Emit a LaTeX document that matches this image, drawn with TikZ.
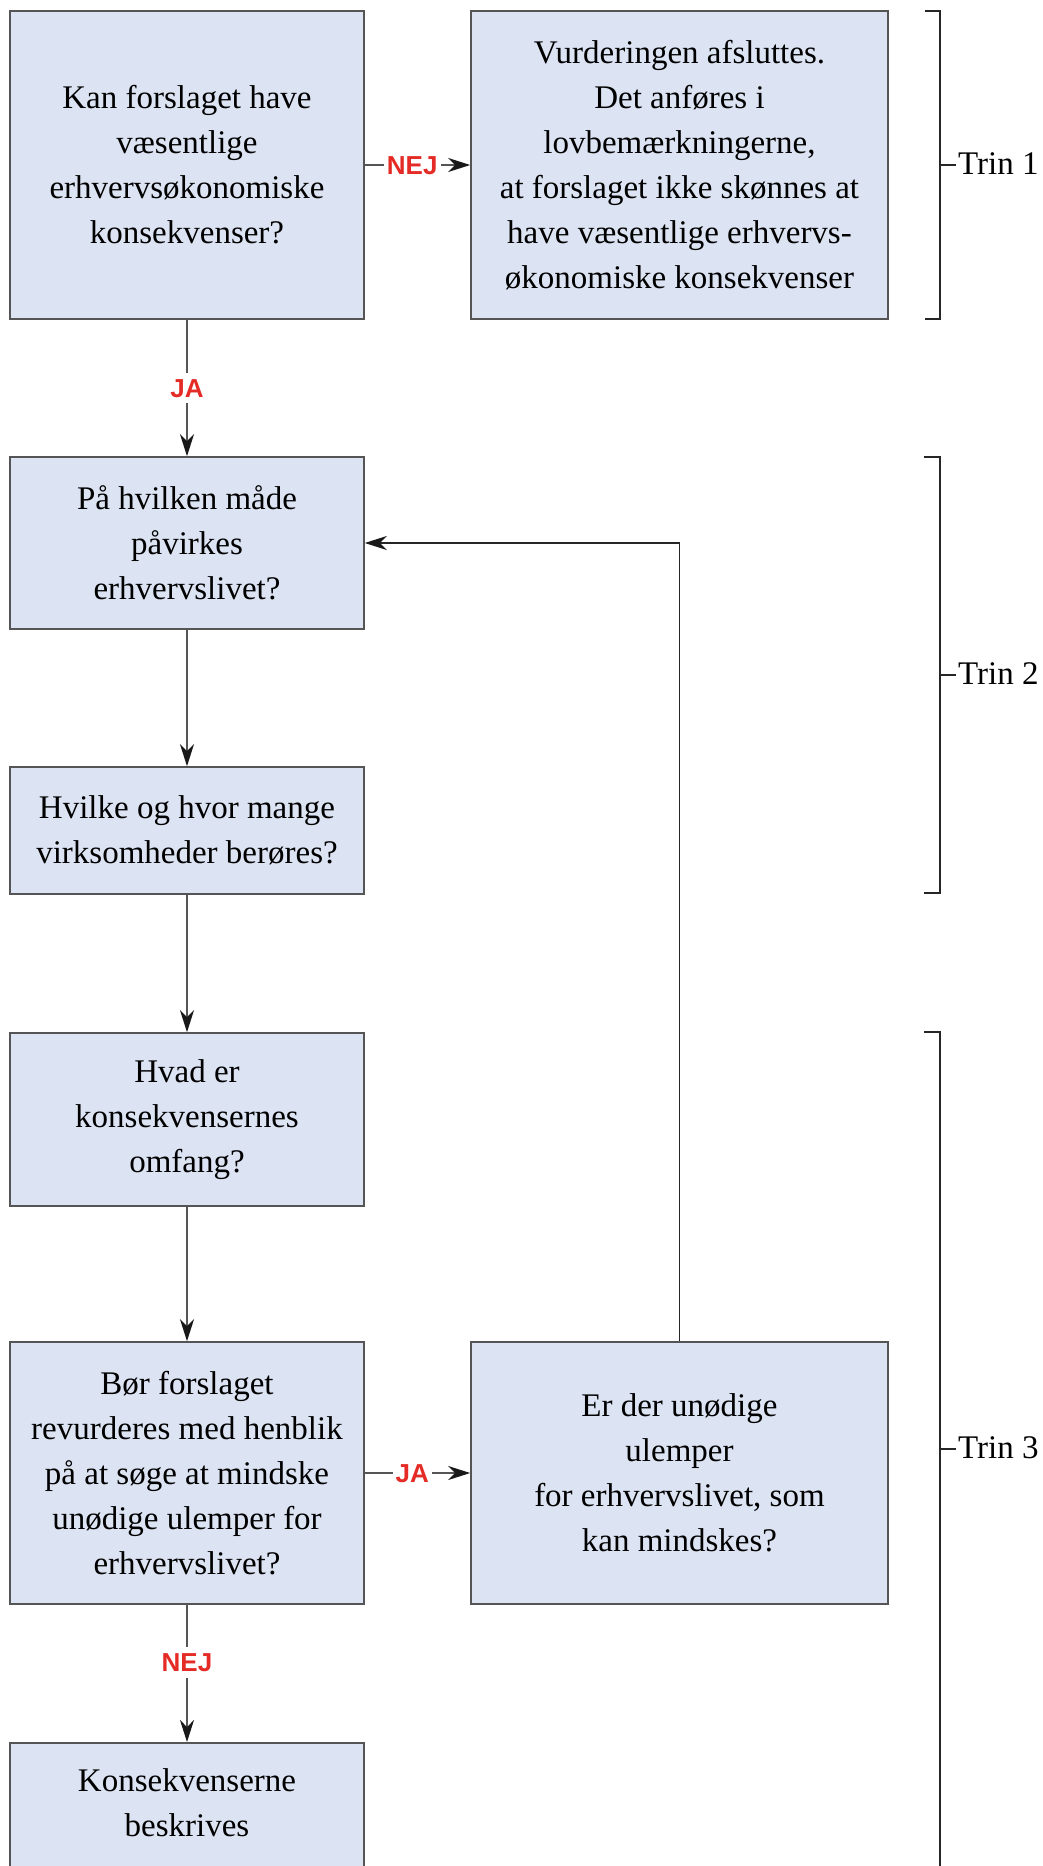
\documentclass[tikz,border=0pt]{standalone}
\usepackage{fontspec}
\setmainfont{Liberation Serif}
\newfontfamily\labfont{Liberation Sans}
\usetikzlibrary{arrows.meta}
\definecolor{boxfill}{RGB}{220,227,242}
\definecolor{boxline}{RGB}{85,85,85}
\definecolor{labred}{RGB}{228,43,37}
\begin{document}
\begin{tikzpicture}[x=1pt,y=-1pt,
  box/.style={draw=boxline, fill=boxfill, line width=1.6pt, minimum width=354pt, inner sep=0pt, align=center, font=\fontsize{33}{45}\selectfont},
  wide/.style={minimum width=417pt},
  plain/.style={inner sep=0pt, align=center, font=\fontsize{33}{45}\selectfont},
  conn/.style={draw=boxline, line width=1.5pt},
  arr/.style={conn, -{Stealth[length=22pt,width=14pt,inset=7pt,color=black!90]}},
  fbarr/.style={draw=black!85, line width=1.3pt, -{Stealth[length=22pt,width=14pt,inset=7pt,color=black!90]}},
  lab/.style={fill=white, text=labred, font=\labfont\bfseries\fontsize{26}{26}\selectfont, inner xsep=3pt, inner ysep=6pt, text height=18.6pt, text depth=0pt},
  brk/.style={draw=black!85, line width=1.3pt},
  trin/.style={anchor=base west, inner sep=0pt, font=\fontsize{33}{45}\selectfont}
]
\useasboundingbox (0,0) rectangle (1042,1866);
\clip (0,0) rectangle (1042,1866);

% boxes
\node[box, minimum height=308pt] (b1) at (187,165) {Kan forslaget have\\væsentlige\\erhvervsøkonomiske\\konsekvenser?};
\node[box, wide, minimum height=308pt] (b2) at (679.5,165) {Vurderingen afsluttes.\\Det anføres i\\lovbemærkningerne,\\at forslaget ikke skønnes at\\have væsentlige erhvervs-\\økonomiske konsekvenser};
\node[box, minimum height=172pt] (b3) at (187,543) {På hvilken måde\\påvirkes\\erhvervslivet?};
\node[box, minimum height=127pt] (b4) at (187,830.5) {Hvilke og hvor mange\\virksomheder berøres?};
\node[box, minimum height=173pt] (b5) at (187,1119.5) {Hvad er\\konsekvensernes\\omfang?};
\node[box, minimum height=262pt] (b6) at (187,1473) {Bør forslaget\\revurderes med henblik\\på at søge at mindske\\unødige ulemper for\\erhvervslivet?};
\node[box, wide, minimum height=262pt] (b7) at (679.5,1473) {Er der unødige\\ulemper\\for erhvervslivet, som\\kan mindskes?};
\node[box, minimum height=150pt, anchor=north] (b8) at (187,1742) {};
\node[plain] (b8t) at (187,1803) {Konsekvenserne\\beskrives};

% connectors
\draw[arr] (b1.east) -- node[lab, pos=0.45] (l1) {NEJ} (b2.west);
\draw[arr] (b1.south) -- node[lab, pos=0.5] (l2) {JA} (b3.north);
\draw[arr] (b3.south) -- (b4.north);
\draw[arr] (b4.south) -- (b5.north);
\draw[arr] (b5.south) -- (b6.north);
\draw[arr] (b6.east) -- node[lab, pos=0.45] (l3) {JA} (b7.west);
\draw[arr] (b6.south) -- node[lab, pos=0.42] (l4) {NEJ} (b8.north);
\draw[fbarr] (b7.north) |- (b3.east);

% brackets
\draw[brk] (925,11) -- (940,11) -- (940,319) -- (925,319);
\draw[brk] (940,165) -- (956,165);
\node[trin] (t1) at (958,174) {Trin 1};
\draw[brk] (924,457) -- (940,457) -- (940,893) -- (924,893);
\draw[brk] (940,675) -- (956,675);
\node[trin] (t2) at (958,684) {Trin 2};
\draw[brk] (924,1032) -- (940,1032) -- (940,1890);
\draw[brk] (940,1449) -- (956,1449);
\node[trin] (t3) at (958,1458) {Trin 3};
\end{tikzpicture}
\end{document}
